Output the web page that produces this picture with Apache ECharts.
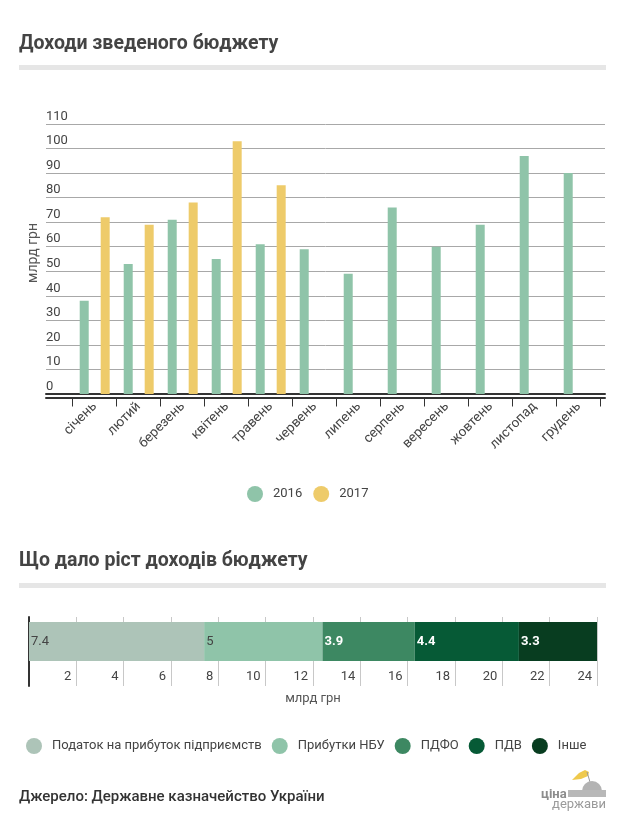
<!DOCTYPE html>
<html><head><meta charset="utf-8">
<script src="https://cdn.jsdelivr.net/npm/echarts@6/dist/echarts.min.js"></script>
<style>html,body{margin:0;padding:0;background:#fff}#c{width:626px;height:823px}</style>
</head><body><div id="c"></div>
<script>
// ---- data ----
const months = ['січень','лютий','березень','квітень','травень','червень','липень','серпень','вересень','жовтень','листопад','грудень'];
const values2016 = [38,53,71,55,61,59,49,76,60,69,97,90];
const values2017 = [72,69,78,103,85,null,null,null,null,null,null,null];
const seriesNames = ['2016','2017'];
const growthCategory = ['ріст'];
const growthNames = ['Податок на прибуток підприємств','Прибутки НБУ','ПДФО','ПДВ','Інше'];
const growthValues = [7.4,5,3.9,4.4,3.3];

// ---- styles ----
const FONT = 'Roboto';
const yearColors = ['#8fc4a9','#eecb6a'];
const growthColors = ['#adc4b8','#8fc4a9','#3d8862','#065a36','#083d20'];
const growthLabelColors = ['#444','#444','#fff','#fff','#fff'];
const growthLabelWeights = ['normal','normal','bold','bold','bold'];

const chart = echarts.init(document.getElementById('c'), null, {renderer:'canvas'});

const growthSeries = growthNames.map((n,i)=>({
  name:n, type:'bar', stack:'g', xAxisIndex:4, yAxisIndex:3,
  barWidth:'100%', data:[growthValues[i]],
  itemStyle:{color:growthColors[i]},
  label:{show:true, position:'insideLeft', distance:2, formatter:'{c}',
    fontFamily:FONT, fontSize:13, color:growthLabelColors[i], fontWeight:growthLabelWeights[i]}
}));

const option = {
  animation:false,
  textStyle:{fontFamily:FONT},
  title:[
    {text:'Доходи зведеного бюджету', left:19, top:33, padding:0,
      textStyle:{fontFamily:FONT, fontWeight:'bold', fontSize:19.5, color:'#444', lineHeight:22}},
    {text:'Що дало ріст доходів бюджету', left:19, top:550, padding:0,
      textStyle:{fontFamily:FONT, fontWeight:'bold', fontSize:19.5, color:'#444', lineHeight:22}},
    {text:'Джерело: Державне казначейство України', left:19, top:788, padding:0,
      textStyle:{fontFamily:FONT, fontWeight:500, fontSize:15, color:'#333', lineHeight:18}}
  ],
  legend:[
    {data:seriesNames, left:247, top:486, itemWidth:16, itemHeight:16, icon:'circle', itemGap:11, padding:0,
      textStyle:{fontFamily:FONT, fontSize:13, color:'#444', padding:[0,0,0,5]}},
    {data:growthNames, left:26, top:738, itemWidth:16, itemHeight:16, icon:'circle', itemGap:10, padding:0,
      textStyle:{fontFamily:FONT, fontSize:13, color:'#444', padding:[0,0,0,5]}}
  ],
  grid:[
    {left:46, right:21, top:124, bottom:429},
    {left:72.7, right:25.3, top:124, bottom:429},
    {left:29, right:29, top:617, bottom:137},
    {left:29, right:29, top:622, bottom:162}
  ],
  xAxis:[
    {gridIndex:0, type:'value', min:0, max:1, position:'bottom',
      axisLine:{show:true, onZero:false, lineStyle:{color:'#333', width:2}},
      axisTick:{show:false}, axisLabel:{show:false}, splitLine:{show:false}},
    {gridIndex:0, type:'value', min:0, max:1, position:'bottom', offset:3.5,
      axisLine:{show:true, onZero:false, lineStyle:{color:'#333', width:2}},
      axisTick:{show:false}, axisLabel:{show:false}, splitLine:{show:false}},
    {gridIndex:1, type:'category', data:months, position:'bottom', offset:3.5,
      axisLine:{show:false, onZero:false},
      axisTick:{show:true, length:9, lineStyle:{color:'#333'}},
      axisLabel:{rotate:45, interval:0, margin:7, fontFamily:FONT, fontSize:13.5, color:'#444'}},
    {gridIndex:2, type:'value', min:0, max:24, interval:2,
      axisLine:{show:false, onZero:false}, axisTick:{show:false},
      splitLine:{show:true, lineStyle:{color:'#c8c8c8'}},
      axisLabel:{inside:true, margin:3, align:'right', padding:[0,5,0,0], verticalAlign:'bottom',
        fontFamily:FONT, fontSize:13, color:'#444', showMinLabel:false,
        formatter:v=> v===0 ? '' : String(v)},
      name:'млрд грн', nameLocation:'middle', nameGap:6,
      nameTextStyle:{fontFamily:FONT, fontSize:13, color:'#555', verticalAlign:'top'}},
    {gridIndex:3, type:'value', min:0, max:24, show:false}
  ],
  yAxis:[
    {gridIndex:0, type:'value', min:0, max:110, interval:10,
      axisLine:{show:false}, axisTick:{show:false},
      splitLine:{show:true, lineStyle:{color:'#a8a8a8'}},
      axisLabel:{inside:true, margin:0, verticalAlign:'bottom', padding:[0,0,1,0],
        fontFamily:FONT, fontSize:13, color:'#444'}},
    {gridIndex:1, type:'value', min:0, max:110, interval:10, show:false},
    {gridIndex:2, type:'value', min:0, max:1,
      axisLine:{show:true, onZero:false, lineStyle:{color:'#333', width:2}},
      axisTick:{show:false}, axisLabel:{show:false}, splitLine:{show:false}},
    {gridIndex:3, type:'category', data:growthCategory, show:false}
  ],
  series:[
    {name:seriesNames[0], type:'bar', xAxisIndex:2, yAxisIndex:1, data:values2016,
      barWidth:9, barGap:'133%', itemStyle:{color:yearColors[0]}},
    {name:seriesNames[1], type:'bar', xAxisIndex:2, yAxisIndex:1, data:values2017,
      barWidth:9, barGap:'133%', itemStyle:{color:yearColors[1]}},
    ...growthSeries
  ],
  graphic:[
    {type:'rect', shape:{x:19, y:65, width:587, height:5}, style:{fill:'#e6e6e6'}},
    {type:'rect', shape:{x:19, y:583, width:587, height:5}, style:{fill:'#e6e6e6'}},
    {type:'text', x:33, y:253, rotation:Math.PI/2,
      style:{text:'млрд грн', fontFamily:FONT, fontSize:14, fill:'#555', align:'center', verticalAlign:'middle'}},
    // logo
    {type:'polygon', shape:{points:[[572,780],[579,773],[585,770],[589,772],[588,776],[581,779]]}, style:{fill:'#efc94c'}},
    {type:'line', shape:{x1:587, y1:772, x2:590, y2:782}, style:{stroke:'#999', lineWidth:1}},
    {type:'sector', shape:{cx:592, cy:791, r0:0, r:10, startAngle:Math.PI, endAngle:2*Math.PI}, style:{fill:'#b3b3b3'}},
    {type:'rect', shape:{x:568, y:790, width:38, height:7}, style:{fill:'#b8b8b8'}},
    {type:'text', x:541, y:795, style:{text:'ціна', fontFamily:FONT, fontWeight:'bold', fontSize:13, fill:'#8c8c8c', align:'left', verticalAlign:'middle'}},
    {type:'text', x:606, y:805, style:{text:'держави', fontFamily:FONT, fontSize:13, fill:'#9a9a9a', align:'right', verticalAlign:'middle'}}
  ]
};
chart.setOption(option);
</script></body></html>
